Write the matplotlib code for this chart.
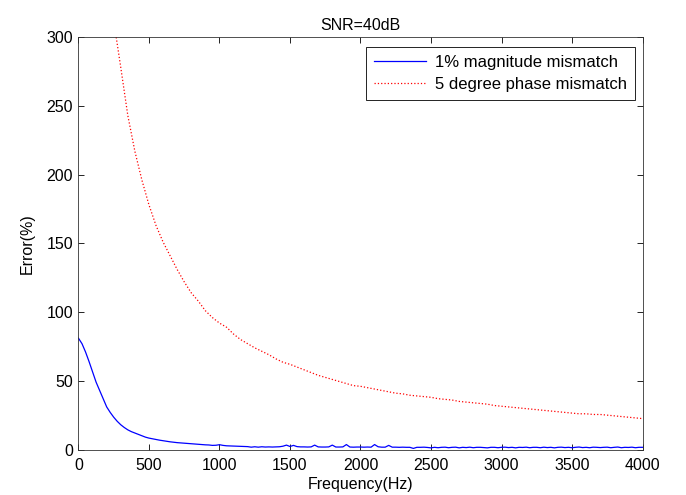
import numpy as np
import matplotlib
matplotlib.use("Agg")
import matplotlib.pyplot as plt

plt.rcParams['font.family'] = ['Liberation Sans', 'DejaVu Sans']

# 1% magnitude mismatch, sampled every 25 Hz from 0 to 4000 Hz
mag_freq = np.arange(0, 4001, 25)
mag_err = [
    81.0, 77.0, 71.0, 64.0, 56.5, 49.0, 43.0, 37.0, 31.0, 27.0,
    23.5, 20.5, 18.0, 16.0, 14.3, 13.0, 12.0, 11.0, 10.0, 9.0,
    8.3, 7.8, 7.3, 6.8, 6.4, 6.0, 5.6, 5.3, 5.0, 4.8,
    4.6, 4.4, 4.2, 4.0, 3.8, 3.6, 3.4, 3.3, 3.0, 3.1,
    3.5, 3.0, 2.7, 2.6, 2.5, 2.4, 2.3, 2.2, 2.1, 1.7,
    2.0, 1.7, 2.0, 1.8, 1.9, 1.8, 1.9, 2.0, 2.4, 3.2,
    2.2, 3.0, 2.1, 1.9, 1.9, 1.8, 1.9, 3.2, 1.9, 1.8,
    1.8, 1.9, 3.2, 1.8, 1.8, 1.9, 3.6, 1.8, 1.7, 1.8,
    1.8, 1.7, 1.8, 1.7, 3.6, 2.0, 1.7, 1.7, 3.0, 1.7,
    1.7, 1.6, 1.7, 1.6, 1.6, 0.8, 1.6, 1.6, 1.7, 1.5,
    1.2, 1.6, 1.3, 1.6, 1.7, 1.3, 1.6, 1.7, 1.2, 1.6,
    1.4, 1.7, 1.3, 1.6, 1.6, 1.4, 1.2, 1.6, 1.6, 1.3,
    1.6, 1.7, 1.4, 1.6, 1.2, 1.6, 1.5, 1.7, 1.3, 1.6,
    1.6, 1.3, 1.7, 1.4, 1.6, 1.2, 1.6, 1.7, 1.4, 1.6,
    1.3, 1.6, 1.8, 1.4, 1.6, 1.3, 1.7, 1.6, 1.4, 1.6,
    1.7, 1.3, 1.6, 1.8, 1.3, 1.6, 1.5, 1.7, 1.3, 1.6,
    1.6,
]

# 5 degree phase mismatch, sampled every 50 Hz from 250 to 4000 Hz
ph_freq = np.arange(250, 4001, 50)
ph_err = [
    312, 278, 243, 217, 196, 178, 163, 151, 141, 131,
    122, 114, 108, 101, 96, 92, 89, 84, 80, 77,
    74, 71.5, 69, 66, 63.5, 62, 60, 58, 56, 54,
    52.5, 51, 49.5, 48, 46.5, 46, 45, 44, 43, 42,
    41, 40.5, 39.5, 39, 38.5, 38, 37, 36.5, 36, 35,
    34.5, 34, 33.5, 33, 32, 31.5, 31, 30.5, 30, 29.5,
    29, 28.5, 28, 27.5, 27, 26.5, 26, 26, 25.5, 25.5,
    25, 24.5, 24, 23.5, 23, 22.5,
]

xticks = [0, 500, 1000, 1500, 2000, 2500, 3000, 3500, 4000]
yticks = [0, 50, 100, 150, 200, 250, 300]

fs = 11.5

fig = plt.figure(figsize=(6.86, 4.95), dpi=100)
ax = fig.add_axes([0.1144, 0.0919, 0.8222, 0.8327])

ax.plot(mag_freq, mag_err, color='blue', lw=0.9, label='1% magnitude mismatch')
ax.plot(ph_freq, ph_err, color='red', lw=0.9, linestyle=':', label='5 degree phase mismatch')

ax.set_xlim(0, 4000)
ax.set_ylim(0, 300)
ax.set_xticks(xticks)
ax.set_yticks(yticks)
ax.tick_params(direction='in', length=4, width=0.6, top=True, right=True,
               labelsize=fs, colors='black')
ax.tick_params(axis='x', pad=6)
ax.tick_params(axis='y', pad=4)
for s in ax.spines.values():
    s.set_linewidth(0.6)
    s.set_color('#333333')

ax.set_title('SNR=40dB', fontsize=fs, pad=5)
ax.set_xlabel('Frequency(Hz)', fontsize=fs, labelpad=3)
ax.set_ylabel('Error(%)', fontsize=fs, labelpad=8)

leg = ax.legend(loc='upper right', bbox_to_anchor=(0.9867, 0.977), fontsize=12,
                handlelength=3.1, handletextpad=0.55, labelspacing=0.4,
                borderpad=0.5, borderaxespad=0, fancybox=False, framealpha=1)
leg.get_frame().set_edgecolor('black')
leg.get_frame().set_linewidth(0.6)

fig.savefig('out.png', dpi=100)
